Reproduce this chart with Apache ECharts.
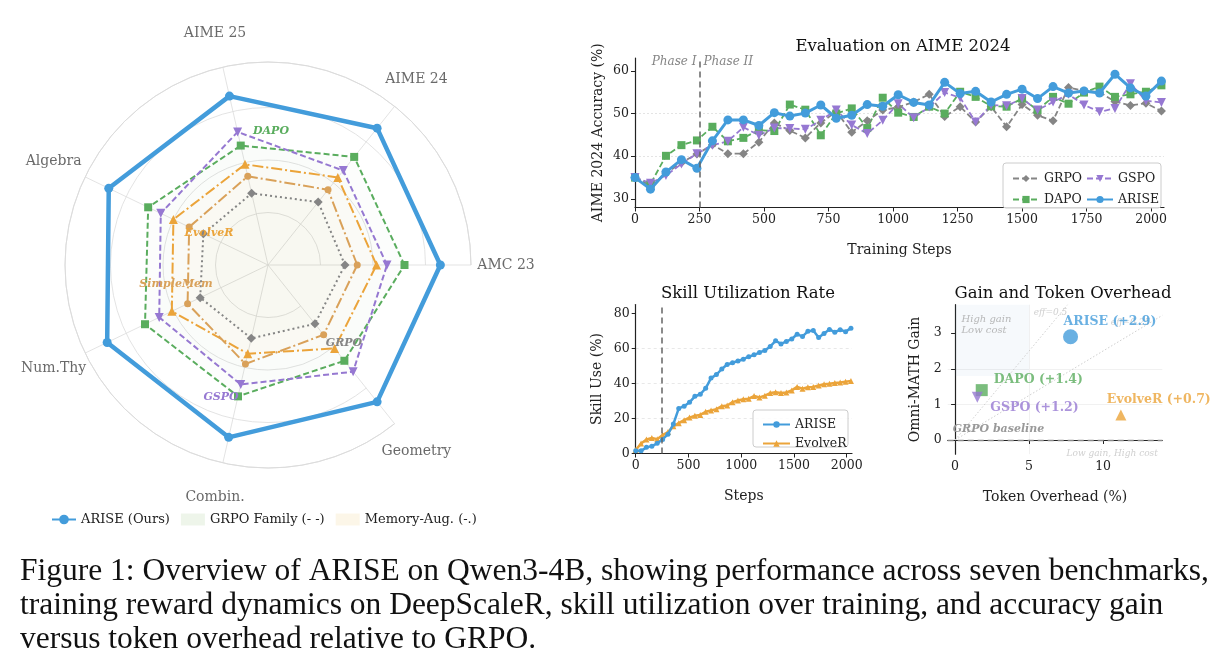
<!DOCTYPE html>
<html><head><meta charset="utf-8">
<script src="https://cdn.jsdelivr.net/npm/echarts@6/dist/echarts.min.js"></script>
<style>html,body{margin:0;padding:0;background:#fff;}#c{width:1226px;height:671px;}</style>
</head><body><div id="c"></div>
<script>
// ---------- DATA ----------
const radarAxes = ['AMC 23','AIME 24','AIME 25','Algebra','Num.Thy','Combin.','Geometry'];
const radarARISE     = [0.985,1.00,0.99,1.01,1.02,1.01,1.00];
const radarDAPO      = [0.78,0.79,0.70,0.76,0.78,0.77,0.70];
const radarGSPO      = [0.68,0.69,0.78,0.68,0.69,0.70,0.78];
const radarEvolveR   = [0.62,0.64,0.59,0.60,0.61,0.52,0.61];
const radarSimpleMem = [0.51,0.55,0.52,0.50,0.51,0.58,0.51];
const radarGRPO      = [0.44,0.46,0.42,0.41,0.43,0.43,0.43];

const aimeSteps = [0,60,120,180,240,300,360,420,480,540,600,660,720,780,840,900,960,1020,1080,1140,1200,1260,1320,1380,1440,1500,1560,1620,1680,1740,1800,1860,1920,1980,2040];
const aimeARISE = [35.0,32.3,36.3,39.2,37.2,43.6,48.5,48.5,47.2,50.2,49.4,50.1,52.0,48.9,49.6,52.1,51.7,54.4,52.6,52.0,57.3,54.7,55.2,52.7,54.5,55.7,53.5,56.3,54.8,55.3,54.8,59.2,56.0,54.1,57.6];
const aimeDAPO  = [35.0,33.5,40.1,42.6,43.7,46.9,43.5,44.3,46.1,45.9,52.1,50.9,44.9,50.0,51.2,46.6,53.7,50.2,49.2,51.6,50.0,55.1,53.9,51.7,51.6,53.5,50.8,53.9,52.3,54.9,56.3,53.9,54.5,55.1,56.6];
const aimeGSPO  = [35.0,33.7,35.5,38.2,40.6,42.6,43.5,46.8,44.9,46.6,46.5,46.3,48.4,50.8,47.3,45.3,48.4,52.3,49.0,51.5,54.9,53.7,48.0,52.0,51.8,53.5,50.8,52.7,54.5,52.0,50.4,51.2,57.0,53.0,52.6];
const aimeGRPO  = [35.0,33.0,36.0,38.5,40.5,42.7,40.6,40.6,43.3,47.8,46.0,44.3,47.8,50.5,45.6,48.3,50.8,51.5,52.7,54.5,49.3,51.6,48.0,51.6,46.9,52.1,49.6,48.3,56.1,55.3,55.0,52.8,51.9,52.4,50.6];
const aimeYTicks = [30,40,50,60];
const aimeXTicks = [0,250,500,750,1000,1250,1500,1750,2000];

const skillSteps = [0,51,102,153,204,255,306,357,408,459,510,561,612,663,714,765,816,867,918,969,1020,1071,1122,1173,1224,1275,1326,1377,1428,1479,1530,1581,1632,1683,1734,1785,1836,1887,1938,1989,2040];
const skillARISE   = [1.5,1.5,3.5,4.2,5.8,8.0,11.0,16.8,25.7,27.0,29.2,32.6,33.8,37.2,43.0,45.0,48.2,50.8,51.8,52.8,53.8,55.2,56.3,57.6,58.8,61.1,64.3,62.5,63.9,65.3,68.0,66.8,69.7,70.2,66.2,68.5,70.8,69.2,70.6,69.5,71.5];
const skillEvolveR = [2.0,5.7,8.0,8.8,8.2,10.5,12.2,15.5,17.3,19.0,20.5,21.5,22.0,23.8,24.6,25.3,27.0,27.4,29.3,30.3,31.0,31.3,32.8,32.0,33.0,34.5,35.0,34.5,34.8,36.0,38.0,37.0,37.8,38.0,38.8,39.5,39.8,40.2,40.5,41.0,41.3];
const skillYTicks = [0,20,40,60,80];
const skillXTicks = [0,500,1000,1500,2000];

const gainMethods  = ['ARISE','DAPO','GSPO','EvolveR'];
const gainOverhead = [7.8,1.8,1.5,11.2];
const gainValue    = [2.9,1.4,1.2,0.7];
const gainLabels   = ['ARISE (+2.9)','DAPO (+1.4)','GSPO (+1.2)','EvolveR (+0.7)'];
const gainXTicks = [0,5,10];
const gainYTicks = [0,1,2,3];
const effLineHalf = [[0,0],[7.6,3.8]];
const effLineQuarter = [[0,0],[14,3.5]];

const captionLines = [
  'Figure 1: Overview of ARISE on Qwen3-4B, showing performance across seven benchmarks,',
  'training reward dynamics on DeepScaleR, skill utilization over training, and accuracy gain',
  'versus token overhead relative to GRPO.'
];

// ---------- STYLE ----------
const FONT = 'DejaVu Serif';
const BLUE = '#439cdb', GREEN = '#5aad5e', PURPLE = '#9678d2', GRAY = '#858585', ORANGE = '#eba43a', TAN = '#d9a15a';
const DASH = [6,3], DOT = [2,3], DASHDOT = [11,3,2,3];

function pairs(xs, ys){ return xs.map((x,i)=>[x, ys[i]]); }

function radarSeries(name, vals, color, width, dash, symbol, size, rotate, fill, z){
  const item = {name, value:vals, symbol, symbolSize:size, symbolRotate:rotate||0,
    lineStyle:{color, width, type:dash}, itemStyle:{color}};
  if (fill) item.areaStyle = {color:fill};
  return {name, type:'radar', radarIndex:0, z, silent:true, data:[item]};
}

const axisLineStyle = {lineStyle:{color:'#222', width:1.2}};
const tickStyle = (vals)=>({length:4, customValues:vals, lineStyle:{color:'#222', width:1}});
const labelStyle = (vals)=>({customValues:vals, color:'#222', fontFamily:FONT, fontSize:12.5, margin:6, formatter:v=>String(v)});
const nameStyle = {fontFamily:FONT, fontSize:14, color:'#222'};
const titleStyle = {fontFamily:FONT, fontSize:16.5, fontWeight:'normal', color:'#111'};

const chart = echarts.init(document.getElementById('c'), null, {renderer:'canvas'});

const option = {
  animation:false,
  backgroundColor:'#ffffff',
  textStyle:{fontFamily:FONT},
  title:[
    {text:'Evaluation on AIME 2024', left:898, top:33, textAlign:'center', textStyle:titleStyle},
    {text:'Skill Utilization Rate', left:743, top:280, textAlign:'center', textStyle:titleStyle},
    {text:'Gain and Token Overhead', left:1058, top:280, textAlign:'center', textStyle:titleStyle}
  ],
  polar:[
    {center:[268,265], radius:203},
    {center:[268,265], radius:238}
  ],
  angleAxis:[
    {polarIndex:0, type:'category', data:radarAxes, startAngle:0, clockwise:false, boundaryGap:false,
     axisLine:{lineStyle:{color:'#dcdcdc', width:1}}, axisTick:{show:false}, axisLabel:{show:false},
     splitLine:{show:true, lineStyle:{color:'#dcdcdc', width:0.8}}},
    {polarIndex:1, type:'category', data:radarAxes, startAngle:0, clockwise:false, boundaryGap:false, show:false}
  ],
  radiusAxis:[
    {polarIndex:0, min:0, max:1.16, interval:0.3, axisLine:{show:false}, axisTick:{show:false}, axisLabel:{show:false},
     splitLine:{show:true, lineStyle:{color:'#dcdcdc', width:0.8}}},
    {polarIndex:1, min:0, max:1, show:false}
  ],
  radar:{
    center:[268,265], radius:203, startAngle:0, shape:'polygon',
    indicator: radarAxes.map(n=>({name:n, min:0, max:1.16})),
    axisName:{show:false}, axisLine:{show:false}, splitLine:{show:false}, splitArea:{show:false}, axisTick:{show:false}, axisLabel:{show:false}
  },
  grid:[
    {left:635, top:58, width:529, height:149.5},
    {left:635.7, top:304.5, width:216.3, height:149},
    {left:947.7, top:304.7, width:214.6, height:149.5}
  ],
  xAxis:[
    {gridIndex:0, type:'value', min:0, max:2050, interval:250, axisLine:axisLineStyle, axisTick:tickStyle(aimeXTicks), axisLabel:labelStyle(aimeXTicks), splitLine:{show:false},
     name:'Training Steps', nameLocation:'middle', nameGap:36, nameTextStyle:nameStyle},
    {gridIndex:1, type:'value', min:0, max:2050, interval:500, axisLine:axisLineStyle, axisTick:tickStyle(skillXTicks), axisLabel:labelStyle(skillXTicks), splitLine:{show:false},
     name:'Steps', nameLocation:'middle', nameGap:36, nameTextStyle:nameStyle},
    {gridIndex:2, type:'value', min:-0.5, max:14, splitNumber:3, axisLine:axisLineStyle, axisTick:tickStyle(gainXTicks), axisLabel:labelStyle(gainXTicks),
     splitLine:{show:true, showMinLine:false, showMaxLine:false, lineStyle:{color:'#f1f1f1', width:1}},
     name:'Token Overhead (%)', nameLocation:'middle', nameGap:36, nameTextStyle:nameStyle}
  ],
  yAxis:[
    {gridIndex:0, type:'value', min:28, max:63, splitNumber:5, axisLine:axisLineStyle, axisTick:tickStyle(aimeYTicks), axisLabel:labelStyle(aimeYTicks),
     splitLine:{show:true, showMinLine:false, showMaxLine:false, lineStyle:{color:'#e4e4e4', width:1, type:[2,2]}},
     name:'AIME 2024 Accuracy (%)', nameLocation:'middle', nameGap:30, nameTextStyle:nameStyle},
    {gridIndex:1, type:'value', min:0, max:85, splitNumber:5, axisLine:axisLineStyle, axisTick:tickStyle(skillYTicks), axisLabel:labelStyle(skillYTicks),
     splitLine:{show:true, showMinLine:false, showMaxLine:false, lineStyle:{color:'#e8e8e8', width:1, type:[3,3]}},
     name:'Skill Use (%)', nameLocation:'middle', nameGap:31, nameTextStyle:nameStyle},
    {gridIndex:2, type:'value', min:-0.4, max:3.8, splitNumber:4, axisLine:axisLineStyle, axisTick:tickStyle(gainYTicks), axisLabel:labelStyle(gainYTicks),
     splitLine:{show:true, showMinLine:false, showMaxLine:false, lineStyle:{color:'#f1f1f1', width:1}},
     name:'Omni-MATH Gain', nameLocation:'middle', nameGap:25, nameTextStyle:nameStyle}
  ],
  legend:[
    {data:[{name:'ARISE (Ours)'},
           {name:'GRPO Family (- -)', icon:'rect', itemStyle:{color:'#eef5ea'}},
           {name:'Memory-Aug. (-.)', icon:'rect', itemStyle:{color:'#fcf6e8'}}],
     left:46, top:508, itemWidth:24, itemHeight:12, itemGap:11, selectedMode:false,
     textStyle:{fontFamily:FONT, fontSize:13, color:'#222'}},
    {data:['GRPO','DAPO'], orient:'vertical', left:1007, top:167, itemWidth:26, itemHeight:9, itemGap:8, selectedMode:false, z:20,
     textStyle:{fontFamily:FONT, fontSize:12.5, color:'#222'}},
    {data:['GSPO','ARISE'], orient:'vertical', left:1081, top:167, itemWidth:26, itemHeight:9, itemGap:8, selectedMode:false, z:20,
     textStyle:{fontFamily:FONT, fontSize:12.5, color:'#222'}},
    {data:['ARISE ','EvolveR'], orient:'vertical', left:757, top:413, itemWidth:27, itemHeight:8, itemGap:6, selectedMode:false, z:20,
     textStyle:{fontFamily:FONT, fontSize:12.5, color:'#222'}}
  ],
  series:[
    // ---- radar ----
    radarSeries('DAPO-r', radarDAPO, GREEN, 2, DASH, 'rect', 8, 0, 'rgba(120,180,110,0.035)', 3),
    radarSeries('GSPO-r', radarGSPO, PURPLE, 2, DASH, 'triangle', 9, 180, 'rgba(120,180,110,0.025)', 3),
    radarSeries('EvolveR-r', radarEvolveR, ORANGE, 2, DASHDOT, 'triangle', 9, 0, 'rgba(240,190,90,0.03)', 3),
    radarSeries('SimpleMem-r', radarSimpleMem, TAN, 2, DASHDOT, 'circle', 7, 0, 'rgba(240,190,90,0.025)', 3),
    radarSeries('GRPO-r', radarGRPO, GRAY, 2, DOT, 'diamond', 9, 0, 'rgba(120,180,110,0.02)', 3),
    radarSeries('ARISE-r', radarARISE, BLUE, 4.5, 'solid', 'circle', 9, 0, null, 5),
    {name:'ARISE (Ours)', type:'line', coordinateSystem:'polar', polarIndex:0, data:[], symbol:'circle', symbolSize:9,
     lineStyle:{color:BLUE, width:4.5}, itemStyle:{color:BLUE}},
    {name:'GRPO Family (- -)', type:'line', coordinateSystem:'polar', polarIndex:0, data:[], itemStyle:{color:'#eef5ea'}},
    {name:'Memory-Aug. (-.)', type:'line', coordinateSystem:'polar', polarIndex:0, data:[], itemStyle:{color:'#fcf6e8'}},
    {name:'radar-labels', type:'scatter', coordinateSystem:'polar', polarIndex:1, symbolSize:0, silent:true,
     data:radarAxes.map(n=>({value:[1,n], name:n})),
     label:{show:true, position:'inside', formatter:p=>p.name, color:'#444', fontFamily:FONT, fontSize:14}},

    // ---- AIME ----
    {name:'GRPO', type:'line', xAxisIndex:0, yAxisIndex:0, data:pairs(aimeSteps, aimeGRPO), symbol:'diamond', symbolSize:9,
     lineStyle:{color:GRAY, width:1.8, type:DASH}, itemStyle:{color:GRAY}, z:3,
     markLine:{silent:true, symbol:'none', label:{show:false}, lineStyle:{color:'#666', width:1.5, type:[6,4]}, data:[{xAxis:250}]}},
    {name:'DAPO', type:'line', xAxisIndex:0, yAxisIndex:0, data:pairs(aimeSteps, aimeDAPO), symbol:'rect', symbolSize:8,
     lineStyle:{color:GREEN, width:1.8, type:DASH}, itemStyle:{color:GREEN}, z:3},
    {name:'GSPO', type:'line', xAxisIndex:0, yAxisIndex:0, data:pairs(aimeSteps, aimeGSPO), symbol:'triangle', symbolRotate:180, symbolSize:9,
     lineStyle:{color:PURPLE, width:1.8, type:DASH}, itemStyle:{color:PURPLE}, z:3},
    {name:'ARISE', type:'line', xAxisIndex:0, yAxisIndex:0, data:pairs(aimeSteps, aimeARISE), symbol:'circle', symbolSize:9,
     lineStyle:{color:BLUE, width:3}, itemStyle:{color:BLUE}, z:4},
    {name:'phase', type:'scatter', xAxisIndex:0, yAxisIndex:0, symbolSize:0, silent:true,
     data:[{value:[250,62.2], label:{formatter:'Phase I', position:'left', distance:3}},
           {value:[250,62.2], label:{formatter:'Phase II', position:'right', distance:4}}],
     label:{show:true, color:'#666', fontFamily:FONT, fontStyle:'italic', fontSize:12}},

    // ---- Skill ----
    {name:'ARISE ', type:'line', xAxisIndex:1, yAxisIndex:1, data:pairs(skillSteps, skillARISE), symbol:'circle', symbolSize:5,
     lineStyle:{color:BLUE, width:2.5}, itemStyle:{color:BLUE}, z:4,
     markLine:{silent:true, symbol:'none', label:{show:false}, lineStyle:{color:'#666', width:1.5, type:[6,4]}, data:[{xAxis:250}]}},
    {name:'EvolveR', type:'line', xAxisIndex:1, yAxisIndex:1, data:pairs(skillSteps, skillEvolveR), symbol:'triangle', symbolSize:6,
     lineStyle:{color:ORANGE, width:2.5}, itemStyle:{color:ORANGE}, z:3},

    // ---- Gain ----
    {name:'eff05', type:'line', xAxisIndex:2, yAxisIndex:2, data:effLineHalf, symbol:'none', silent:true,
     lineStyle:{color:'#cfcfcf', width:1, type:[1.5,2]}, z:2,
     markArea:{silent:true, itemStyle:{color:'rgba(110,150,210,0.06)'}, label:{show:false},
       data:[[{xAxis:0, yAxis:1.8},{xAxis:5, yAxis:3.8}]]},
     markLine:{silent:true, symbol:'none', lineStyle:{color:'#8a8a8a', width:1.4, type:[6,4]},
       label:{show:true, position:'insideStartTop', formatter:'GRPO baseline', color:'#999999', fontFamily:FONT, fontStyle:'italic', fontWeight:'bold', fontSize:11},
       data:[{yAxis:0}]}},
    {name:'eff025', type:'line', xAxisIndex:2, yAxisIndex:2, data:effLineQuarter, symbol:'none', silent:true,
     lineStyle:{color:'#cfcfcf', width:1, type:[1.5,2]}, z:2},
    {name:'notes', type:'scatter', xAxisIndex:2, yAxisIndex:2, symbolSize:0, silent:true, z:3,
     data:[{value:[6.45,3.57], label:{formatter:'eff=0.5'}},
           {value:[11.85,3.29], label:{formatter:'eff=0.25'}},
           {value:[13.7,-0.38], label:{formatter:'Low gain, High cost', position:'left', distance:0}},
           {value:[0.43,3.23], label:{formatter:'High gain\nLow cost', align:'left', color:'#a8a8a8', fontSize:10, lineHeight:11}}],
     label:{show:true, position:'inside', color:'#c4c4c4', fontFamily:FONT, fontStyle:'italic', fontSize:9}},
    {name:'gARISE', type:'scatter', xAxisIndex:2, yAxisIndex:2, z:6, symbol:'circle', symbolSize:15,
     data:[[gainOverhead[0], gainValue[0]]], itemStyle:{color:BLUE},
     label:{show:true, formatter:gainLabels[0], position:'inside', align:'left', offset:[-7,-15], color:BLUE, fontFamily:FONT, fontWeight:'bold', fontSize:12.5}},
    {name:'gDAPO', type:'scatter', xAxisIndex:2, yAxisIndex:2, z:6, symbol:'rect', symbolSize:12,
     data:[[gainOverhead[1], gainValue[1]]], itemStyle:{color:GREEN},
     label:{show:true, formatter:gainLabels[1], position:'inside', align:'left', offset:[12,-10], color:GREEN, fontFamily:FONT, fontWeight:'bold', fontSize:12.5}},
    {name:'gGSPO', type:'scatter', xAxisIndex:2, yAxisIndex:2, z:6, symbol:'triangle', symbolRotate:180, symbolSize:11,
     data:[[gainOverhead[2], gainValue[2]]], itemStyle:{color:PURPLE},
     label:{show:true, formatter:gainLabels[2], position:'inside', align:'left', offset:[13,11], color:PURPLE, fontFamily:FONT, fontWeight:'bold', fontSize:12.5}},
    {name:'gEvolveR', type:'scatter', xAxisIndex:2, yAxisIndex:2, z:6, symbol:'triangle', symbolSize:11,
     data:[[gainOverhead[3], gainValue[3]]], itemStyle:{color:ORANGE},
     label:{show:true, formatter:gainLabels[3], position:'inside', align:'left', offset:[-14,-15], color:ORANGE, fontFamily:FONT, fontWeight:'bold', fontSize:12.5}}
  ],
  graphic:[
    {type:'rect', z:15, shape:{x:1003, y:163, width:158, height:45, r:3}, style:{fill:'rgba(255,255,255,0.85)', stroke:'#cccccc', lineWidth:1}},
    {type:'rect', z:15, shape:{x:753, y:410, width:95, height:37, r:3}, style:{fill:'rgba(255,255,255,0.85)', stroke:'#cccccc', lineWidth:1}},
    {type:'text', z:20, x:271, y:131, style:{text:'DAPO', fill:GREEN, font:'italic bold 11px "DejaVu Serif"', align:'center', verticalAlign:'middle'}},
    {type:'text', z:20, x:209, y:233, style:{text:'EvolveR', fill:ORANGE, font:'italic bold 11px "DejaVu Serif"', align:'center', verticalAlign:'middle'}},
    {type:'text', z:20, x:176, y:284, style:{text:'SimpleMem', fill:TAN, font:'italic bold 11px "DejaVu Serif"', align:'center', verticalAlign:'middle'}},
    {type:'text', z:20, x:344, y:343, style:{text:'GRPO', fill:GRAY, font:'italic bold 11px "DejaVu Serif"', align:'center', verticalAlign:'middle'}},
    {type:'text', z:20, x:221, y:397, style:{text:'GSPO', fill:PURPLE, font:'italic bold 11px "DejaVu Serif"', align:'center', verticalAlign:'middle'}},
    {type:'text', z:20, x:20, y:572, style:{text:captionLines[0], fill:'#111', font:'31.5px "Liberation Serif"', verticalAlign:'middle'}},
    {type:'text', z:20, x:20, y:606, style:{text:captionLines[1], fill:'#111', font:'31.5px "Liberation Serif"', verticalAlign:'middle'}},
    {type:'text', z:20, x:20, y:640, style:{text:captionLines[2], fill:'#111', font:'31.5px "Liberation Serif"', verticalAlign:'middle'}}
  ]
};
chart.setOption(option);
</script>
</body></html>
